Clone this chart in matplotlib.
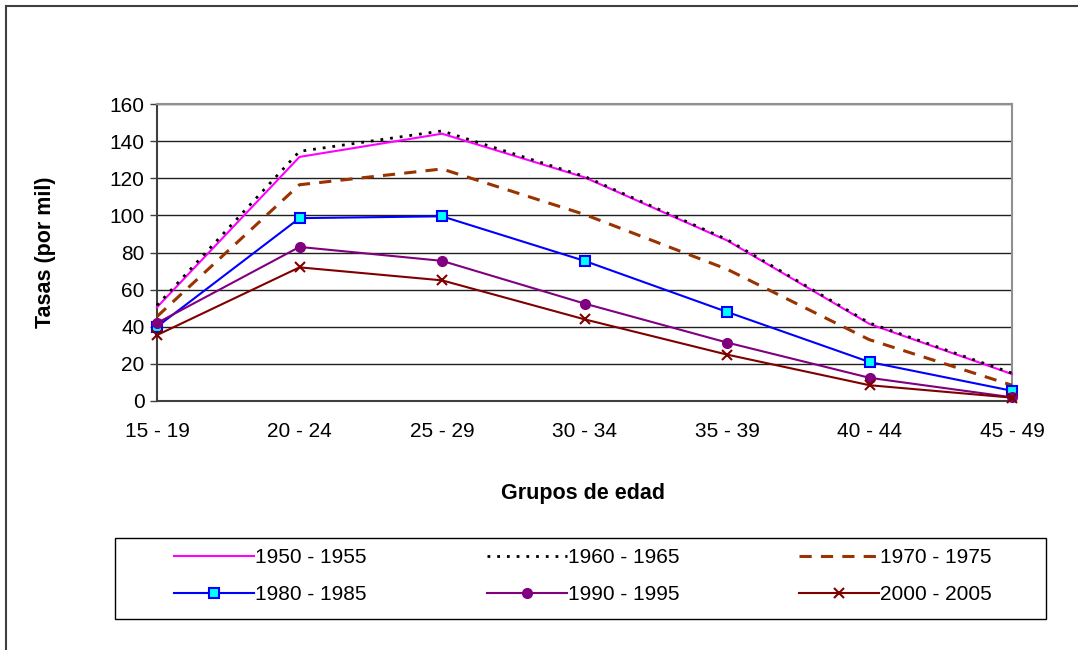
import matplotlib
matplotlib.use("Agg")
import matplotlib.pyplot as plt
from matplotlib.lines import Line2D
from matplotlib.patches import Rectangle

plt.rcParams['font.family'] = ['Liberation Sans', 'DejaVu Sans']

groups = ["15 - 19", "20 - 24", "25 - 29", "30 - 34", "35 - 39", "40 - 44", "45 - 49"]
s1950 = [50.5, 131.5, 144.0, 120.5, 86.5, 41.5, 14.5]
s1960 = [51.5, 134.5, 145.5, 121.0, 87.0, 42.0, 15.0]
s1970 = [45.5, 116.5, 125.0, 100.5, 71.0, 33.0, 8.5]
s1980 = [40.0, 98.5, 99.5, 75.5, 48.0, 21.0, 5.5]
s1990 = [42.0, 83.0, 75.5, 52.5, 31.5, 12.5, 2.0]
s2000 = [35.5, 72.0, 65.0, 44.0, 25.0, 8.5, 1.8]
labels = ["1950 - 1955", "1960 - 1965", "1970 - 1975", "1980 - 1985", "1990 - 1995", "2000 - 2005"]

W, H = 1078, 650
fig = plt.figure(figsize=(W/100, H/100), dpi=100)
ax = fig.add_axes([157/W, 1 - 401/H, (1012-157)/W, (401-104)/H])

x = list(range(len(groups)))
styles = [
    dict(color="#FF00FF", lw=1.5, ls="-"),
    dict(color="black", lw=2.0, ls=(0, (1, 2.5))),
    dict(color="#993300", lw=2.2, ls=(0, (4, 3))),
    dict(color="#0000FF", lw=1.5, ls="-", marker="s", ms=6.5, mfc="#00FFFF", mec="#0000FF", mew=1.5),
    dict(color="#800080", lw=1.5, ls="-", marker="o", ms=7, mfc="#800080", mec="#800080"),
    dict(color="#800000", lw=1.5, ls="-", marker="x", ms=7, mew=1.5),
]
series = [s1950, s1960, s1970, s1980, s1990, s2000]
handles = []
for data, st, lab in zip(series, styles, labels):
    h, = ax.plot(x, data, label=lab, clip_on=False, zorder=3, **st)
    handles.append(h)

ax.set_xlim(0, len(groups) - 1)
ax.set_ylim(0, 160)
ax.set_yticks(range(0, 161, 20))
ax.set_xticks(x)
ax.set_xticklabels(groups)
ax.tick_params(axis="x", length=0, pad=15, labelsize=15)
ax.tick_params(axis="y", length=5, width=1, color="#404040", pad=4, labelsize=15)
ax.yaxis.grid(True, color="#202020", lw=1)
ax.set_axisbelow(True)
for side in ["left", "bottom"]:
    ax.spines[side].set_color("#404040")
    ax.spines[side].set_linewidth(1.5)
for side in ["top", "right"]:
    ax.spines[side].set_color("#909090")
    ax.spines[side].set_linewidth(1.5)

ax.set_ylabel("Tasas (por mil)", fontsize=15.5, fontweight="bold")
ax.yaxis.set_label_coords((56-157)/855, 0.5)
fig.text(583/W, 1 - 493/H, "Grupos de edad", fontsize=15.5, fontweight="bold",
         ha="center", va="center")

# legend box
fig.add_artist(Rectangle((115/W, 1 - 619/H), (1046-115)/W, 81/H, transform=fig.transFigure,
                         fill=False, edgecolor="black", lw=1.0))
order = [0, 3, 1, 4, 2, 5]
leg = fig.legend([handles[i] for i in order], [labels[i] for i in order], ncol=3,
                 loc="center", bbox_to_anchor=(583/W, 1 - 576/H),
                 fontsize=15, frameon=False, handlelength=3.85, handletextpad=0.05,
                 columnspacing=5.75, labelspacing=0.85, borderpad=0)

# outer chart border
fig.add_artist(Line2D([6/W, 6/W], [0, 1 - 6/H], color="#404040", lw=1.5))
fig.add_artist(Line2D([6/W, 1], [1 - 6/H, 1 - 6/H], color="#404040", lw=1.5))

fig.savefig("out.png", dpi=100)
